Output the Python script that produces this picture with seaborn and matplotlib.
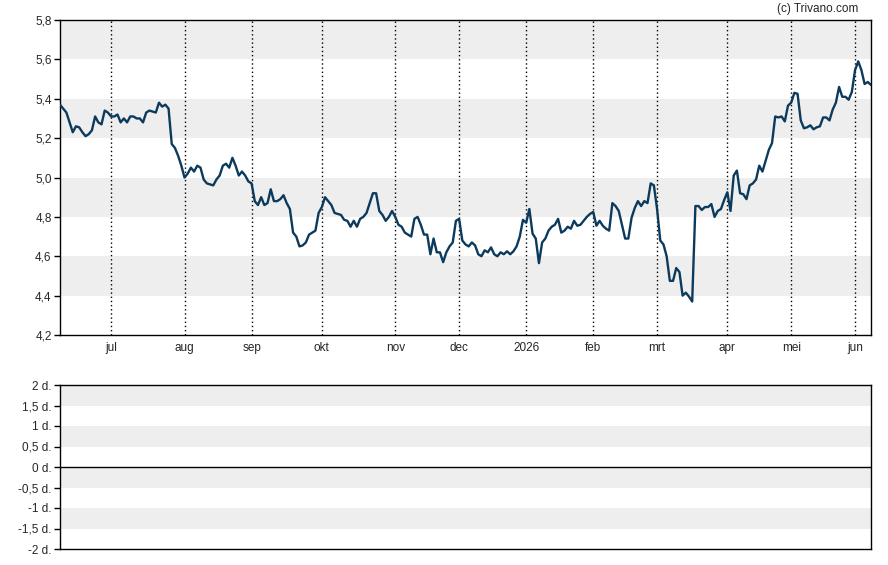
import matplotlib
matplotlib.use("Agg")
import matplotlib.pyplot as plt
from matplotlib.ticker import FuncFormatter
import seaborn as sns
import pandas as pd
import numpy as np

sns.set_style("white")
plt.rcParams['font.family'] = ['Liberation Sans', 'DejaVu Sans']

# daily closing prices, 9 jun 2025 - 8 jun 2026
price = [
    5.37, 5.35, 5.33, 5.28, 5.23, 5.26, 5.255, 5.23, 5.21, 5.22,
    5.24, 5.31, 5.28, 5.27, 5.34, 5.33, 5.31, 5.31, 5.32, 5.28,
    5.30, 5.28, 5.31, 5.31, 5.30, 5.30, 5.28, 5.33, 5.34, 5.335,
    5.33, 5.38, 5.36, 5.37, 5.35, 5.17, 5.15, 5.11, 5.06, 5.00,
    5.02, 5.05, 5.03, 5.06, 5.05, 4.99, 4.97, 4.965, 4.96, 4.99,
    5.01, 5.06, 5.07, 5.05, 5.10, 5.06, 5.01, 5.03, 5.01, 4.98,
    4.97, 4.88, 4.86, 4.90, 4.86, 4.87, 4.94, 4.88, 4.88, 4.89,
    4.91, 4.87, 4.84, 4.72, 4.70, 4.65, 4.655, 4.67, 4.71, 4.72,
    4.73, 4.82, 4.85, 4.90, 4.88, 4.86, 4.82, 4.815, 4.81, 4.785,
    4.78, 4.75, 4.78, 4.75, 4.79, 4.80, 4.82, 4.87, 4.92, 4.92,
    4.83, 4.81, 4.78, 4.80, 4.83, 4.80, 4.76, 4.75, 4.72, 4.71,
    4.70, 4.79, 4.80, 4.76, 4.71, 4.71, 4.61, 4.69, 4.62, 4.62,
    4.57, 4.62, 4.65, 4.67, 4.78, 4.79, 4.68, 4.66, 4.65, 4.67,
    4.655, 4.61, 4.60, 4.63, 4.62, 4.645, 4.61, 4.60, 4.62, 4.61,
    4.625, 4.61, 4.625, 4.65, 4.70, 4.785, 4.77, 4.84, 4.715, 4.69,
    4.565, 4.67, 4.69, 4.73, 4.75, 4.76, 4.79, 4.72, 4.73, 4.75,
    4.74, 4.78, 4.755, 4.76, 4.78, 4.80, 4.815, 4.825, 4.755, 4.78,
    4.755, 4.74, 4.73, 4.87, 4.855, 4.83, 4.76, 4.69, 4.69, 4.795,
    4.845, 4.88, 4.855, 4.88, 4.87, 4.97, 4.96, 4.84, 4.68, 4.66,
    4.60, 4.475, 4.475, 4.54, 4.52, 4.40, 4.415, 4.395, 4.37, 4.855,
    4.855, 4.835, 4.85, 4.85, 4.865, 4.80, 4.83, 4.84, 4.885, 4.925,
    4.83, 5.01, 5.035, 4.92, 4.915, 4.89, 4.96, 4.97, 4.99, 5.06,
    5.03, 5.085, 5.14, 5.175, 5.31, 5.305, 5.31, 5.285, 5.365, 5.38,
    5.43, 5.425, 5.29, 5.25, 5.255, 5.265, 5.245, 5.255, 5.26, 5.305,
    5.305, 5.29, 5.345, 5.38, 5.46, 5.41, 5.41, 5.395, 5.435, 5.545,
    5.59, 5.545, 5.475, 5.485, 5.47,
]
holidays = ['2025-12-25', '2025-12-26', '2026-01-01', '2026-04-03', '2026-04-06', '2026-05-01']
month_labels = ['jul', 'aug', 'sep', 'okt', 'nov', 'dec', '2026', 'feb', 'mrt', 'apr', 'mei', 'jun']

dates = pd.bdate_range('2025-06-09', periods=len(price), freq='C', holidays=holidays)
df = pd.DataFrame({'date': dates, 'price': price})
df['i'] = np.arange(len(df))
month_start = df.groupby(df['date'].dt.to_period('M'))['i'].min().values[1:]

fig = plt.figure(figsize=(8.88, 5.65), dpi=100)
ax = fig.add_axes([60 / 888, 1 - 335 / 565, 811 / 888, 315 / 565])
ax2 = fig.add_axes([60 / 888, 1 - 549 / 565, 811 / 888, 164 / 565])

band = '#eeeeee'
for lo in [4.4, 4.8, 5.2, 5.6]:
    ax.axhspan(lo, lo + 0.2, color=band, lw=0, zorder=0)
for m in month_start:
    ax.axvline(m, color='black', lw=1, ls=(0, (1, 2)), zorder=1)

sns.lineplot(data=df, x='i', y='price', ax=ax, color='#0b3a5c', lw=1.7, zorder=3)
ax.set_xlim(0, len(df) - 1)
ax.set_ylim(4.2, 5.8)
ax.set_yticks(np.arange(4.2, 5.81, 0.2))
ax.yaxis.set_major_formatter(FuncFormatter(lambda v, p: f"{v:.1f}".replace('.', ',')))
ax.set_xticks(month_start)
ax.set_xticklabels(month_labels)
ax.set_xlabel('')
ax.set_ylabel('')
ax.tick_params(axis='y', length=4, width=1, color='black', labelsize=8.5, pad=2, left=True)
ax.tick_params(axis='x', length=0, labelsize=8.5, pad=5, bottom=True)
for s in ax.spines.values():
    s.set_color('black')
    s.set_linewidth(1)

# lower panel (empty)
for lo in [1.5, 0.5, -0.5, -1.5]:
    ax2.axhspan(lo, lo + 0.5, color=band, lw=0, zorder=0)
ax2.axhline(0, color='black', lw=1)
ax2.set_xlim(0, len(df) - 1)
ax2.set_ylim(-2, 2)
ax2.set_yticks(np.arange(-2, 2.01, 0.5))
ax2.yaxis.set_major_formatter(FuncFormatter(lambda v, p: f"{v:g} d.".replace('.', ',', 1) if v != int(v) else f"{int(v)} d."))
ax2.set_xticks([])
ax2.tick_params(axis='y', length=4, width=1, color='black', labelsize=8.5, pad=2, left=True)
for s in ax2.spines.values():
    s.set_color('black')
    s.set_linewidth(1)

fig.text(858 / 888, 1 - 9 / 565, '(c) Trivano.com', ha='right', va='center', fontsize=8.5)

fig.savefig('out.png', dpi=100)
